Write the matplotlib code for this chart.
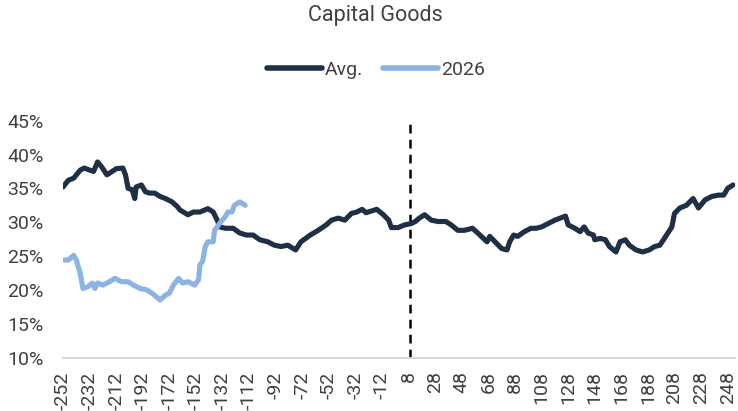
import matplotlib
matplotlib.use("Agg")
import matplotlib.pyplot as plt
from matplotlib.ticker import FuncFormatter

title = "Capital Goods"
series_names = ["Avg.", "2026"]

x_avg = [-252, -248, -244, -239, -236, -232, -229, -226, -223, -219,
         -215, -212, -207, -205, -203, -200, -198, -197, -193, -190,
         -187, -183, -179, -175, -170, -166, -164, -158, -154, -149,
         -143, -139, -136, -134, -130, -124, -119, -114, -109, -104,
         -98, -93, -88, -83, -77, -73, -66, -60, -54, -50,
         -45, -40, -35, -31, -27, -24, -16, -11, -7, -5,
         0, 5, 10, 13, 16, 20, 25, 30, 36, 40,
         45, 50, 56, 60, 67, 69, 74, 78, 82, 84,
         87, 90, 95, 100, 104, 108, 113, 118, 122, 126,
         128, 133, 137, 140, 143, 147, 148, 152, 156, 159,
         164, 167, 171, 174, 179, 184, 189, 193, 197, 202,
         206, 208, 212, 217, 222, 226, 231, 236, 241, 245,
         248, 252]
avg = [35.2, 36.2, 36.5, 37.7, 38.0, 37.7, 37.5, 38.9, 38.2, 37.0,
       37.5, 37.9, 38.0, 37.0, 35.0, 34.8, 33.5, 35.2, 35.5, 34.5,
       34.3, 34.3, 33.8, 33.5, 33.0, 32.3, 31.8, 31.1, 31.5, 31.5,
       32.0, 31.5, 30.3, 29.3, 29.1, 29.1, 28.4, 28.1, 28.1, 27.4,
       27.1, 26.6, 26.4, 26.6, 25.9, 27.1, 28.1, 28.8, 29.6, 30.3,
       30.6, 30.3, 31.3, 31.5, 31.9, 31.4, 31.9, 31.1, 30.3, 29.2,
       29.2, 29.6, 29.8, 30.1, 30.6, 31.1, 30.3, 30.1, 30.1, 29.6,
       28.8, 28.8, 29.1, 28.4, 27.1, 27.9, 26.9, 26.1, 25.9, 27.1,
       28.1, 27.9, 28.6, 29.1, 29.1, 29.3, 29.8, 30.3, 30.6, 30.9,
       29.6, 29.1, 28.6, 29.3, 28.4, 28.1, 27.4, 27.6, 27.4, 26.4,
       25.6, 27.1, 27.4, 26.6, 25.9, 25.6, 25.9, 26.4, 26.6, 28.1,
       29.3, 31.3, 32.1, 32.5, 33.5, 32.1, 33.3, 33.8, 34.0, 34.0,
       35.0, 35.5]

x_2026 = [-252, -248, -244, -242, -239, -237, -233, -230, -228, -226,
          -222, -217, -213, -208, -203, -199, -194, -189, -185, -182,
          -179, -175, -172, -169, -165, -162, -158, -153, -150, -149,
          -147, -145, -143, -139, -138, -135, -133, -130, -128, -125,
          -123, -119, -115]
y_2026 = [24.4, 24.4, 25.1, 24.4, 22.4, 20.2, 20.5, 21.0, 20.2, 21.0,
          20.7, 21.2, 21.7, 21.2, 21.2, 20.7, 20.2, 20.0, 19.5, 19.0,
          18.5, 19.2, 19.5, 20.7, 21.7, 21.0, 21.2, 20.7, 21.5, 23.7,
          24.2, 26.4, 27.1, 27.1, 28.8, 29.6, 30.1, 30.8, 31.5, 31.5,
          32.5, 33.0, 32.5]

x_ticks = [-252, -232, -212, -192, -172, -152, -132, -112, -92, -72, -52, -32, -12,
           8, 28, 48, 68, 88, 108, 128, 148, 168, 188, 208, 228, 248]
y_ticks = [10, 15, 20, 25, 30, 35, 40, 45]
marker_x = 9

c_avg = "#1F2F46"
c_2026 = "#8DB3E2"
txt = "#404040"
weight = 'normal'

plt.rcParams['font.family'] = ['Roboto', 'DejaVu Sans']

fig = plt.figure(figsize=(7.38, 4.11), dpi=100)
ax = fig.add_axes([63/738, 1 - 357.5/411, 672/738, (357.5 - 120.7)/411])

ax.plot(x_avg, avg, color=c_avg, lw=3.7, solid_capstyle='round', solid_joinstyle='round',
        label=series_names[0], zorder=3)
ax.plot(x_2026, y_2026, color=c_2026, lw=3.7, solid_capstyle='round', solid_joinstyle='round',
        label=series_names[1], zorder=4)
ax.axvline(marker_x, color='black', lw=1.8, ls=(0, (3.5, 2.5)), zorder=2)

ax.set_xlim(-252, 253.5)
ax.set_ylim(10, 45)
ax.set_xticks(x_ticks)
ax.set_xticklabels([str(t) for t in x_ticks], rotation=90, fontsize=14, color=txt,
                   fontweight=weight)
ax.set_yticks(y_ticks)
ax.yaxis.set_major_formatter(FuncFormatter(lambda v, p: f"{int(v)}%"))
for lab in ax.get_yticklabels():
    lab.set_fontsize(14)
    lab.set_color(txt)
    lab.set_fontweight(weight)
ax.tick_params(axis='both', length=0)
ax.tick_params(axis='x', pad=10)
ax.tick_params(axis='y', pad=14)

for s in ['top', 'right', 'left']:
    ax.spines[s].set_visible(False)
ax.spines['bottom'].set_color('#D9D9D9')
ax.spines['bottom'].set_linewidth(1.5)

fig.text(375/738, 1 - 15/411, title, ha='center', va='center', fontsize=15.5,
         color=txt, fontweight=weight)

leg = fig.legend(loc='center', bbox_to_anchor=(376/738, 1 - 70/411), ncol=2, frameon=False,
                 handlelength=2.85, handletextpad=0.15, columnspacing=1.0,
                 prop={'size': 14, 'weight': weight})
for t in leg.get_texts():
    t.set_color(txt)
for h in leg.get_lines():
    h.set_linewidth(4)
    h.set_solid_capstyle('round')

fig.savefig("out.png", dpi=100)
